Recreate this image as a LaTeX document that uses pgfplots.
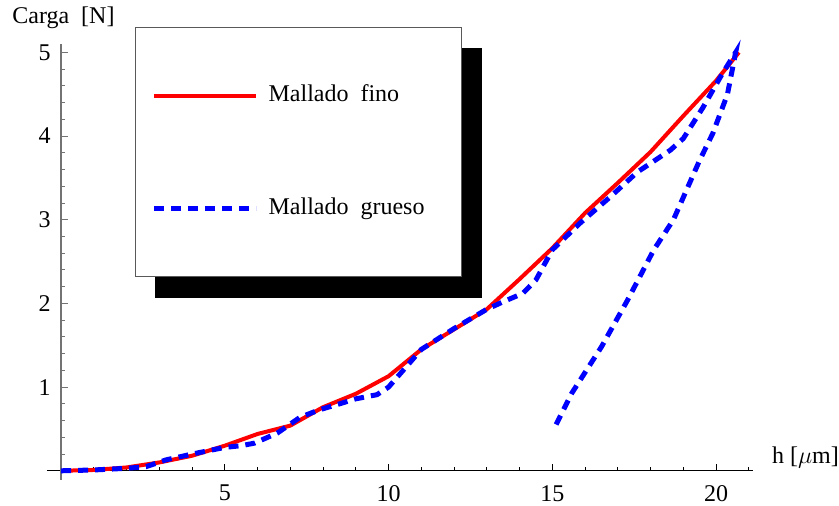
\documentclass[border=0pt]{standalone}
\usepackage{pgfplots}
\pgfplotsset{compat=1.18}
\usepackage{fontspec}
\setmainfont{Liberation Serif}
\pgfdeclarelayer{background}
\pgfsetlayers{background,main}
\begin{document}
\fontsize{12pt}{14pt}\selectfont
\begin{tikzpicture}
\useasboundingbox (0,0) rectangle (419.5pt,252.5pt);
\begin{axis}[
  at={(23.5pt,12.5pt)}, anchor=south west,
  scale only axis, width=353pt, height=218pt,
  xmin=-0.43, xmax=21.13, ymin=-0.11, ymax=5.10,
  axis lines=middle, axis line style={-},
  x axis line style={black, line width=0.6pt},
  y axis line style={black!55, line width=0.6pt},
  xtick={5,10,15,20}, ytick={1,2,3,4,5},
  minor xtick={1,2,3,4,6,7,8,9,11,12,13,14,16,17,18,19,21},
  minor ytick={0.2,0.4,0.6,0.8,1.2,1.4,1.6,1.8,2.2,2.4,2.6,2.8,3.2,3.4,3.6,3.8,4.2,4.4,4.6,4.8},
  tick align=inside, major tick length=3.5pt, minor tick length=2pt,
  x tick style={black, line width=0.5pt},
  y tick style={black!55, line width=0.5pt},
  /pgf/number format/assume math mode=true,
  tick label style={font=\fontsize{12pt}{14pt}\selectfont},
  xticklabel style={yshift=-3pt},
  yticklabel style={xshift=-1pt},
  clip=false,
  legend image code/.code={\draw[#1] (0pt,0pt) -- (51pt,0pt);},
  legend style={name=leg, at={(axis cs:2.26,5.30)}, anchor=north west,
    draw=black!65, line width=0.5pt, fill=white,
    inner xsep=8pt, inner ysep=28.5pt, row sep=45.5pt,
    column sep=5pt,
    nodes={inner sep=0pt, text height=8.5pt, text depth=2.5pt, anchor=west},
    font=\fontsize{12pt}{14pt}\selectfont},
  legend cell align=left,
]
\addplot[red, line width=2pt] coordinates {
(0,0) (1,0.01) (2,0.04) (3,0.1) (4,0.18) (5,0.3) (6,0.44) (7,0.54) (8,0.76) (9,0.92)
(10,1.13) (11,1.45) (12,1.69) (13,1.93) (14,2.29) (15,2.66) (16,3.08) (17,3.44)
(18,3.81) (19,4.24) (20,4.66) (20.7,5.0)};
\addlegendentry{\makebox[88.5pt][l]{Mallado\ \ fino}}
\addplot[blue, line width=2.5pt, dash pattern=on 5pt off 3.5pt] coordinates {
(0,0) (1,0.01) (2,0.03) (2.6,0.05) (3.2,0.13) (4,0.2) (5,0.28) (5.5,0.3) (5.9,0.33)
(6.6,0.45) (7.3,0.64) (7.9,0.73) (8.5,0.8) (9.0,0.86) (9.65,0.91) (10,1.0) (11,1.45)
(12,1.7) (13,1.93) (13.5,2.02) (14.1,2.12) (14.5,2.28) (15,2.64) (15.85,2.96)
(16.76,3.27) (17.6,3.57) (18.6,3.83) (19,3.97) (19.6,4.34) (20.2,4.75) (20.6,5.0)
(20.35,4.5) (19.9,4.03) (19.5,3.71) (18.7,3.0) (18.1,2.64) (17.3,2.04) (16.5,1.48)
(15.6,0.93) (15.05,0.5)};
\addlegendentry{\makebox[88.5pt][l]{Mallado\ \ grueso}}
\node[anchor=west, inner sep=0pt] at (axis cs:-1.5,5.41) {Carga\ \ [N]};
\node[anchor=west, inner sep=0pt] at (axis cs:21.7,0.155) {h [$\mu$m]};
\end{axis}
\begin{pgfonlayer}{background}
\fill[black] ([xshift=10pt,yshift=-10.5pt]leg.south west) rectangle ([xshift=10pt,yshift=-10.5pt]leg.north east);
\end{pgfonlayer}
\end{tikzpicture}
\end{document}
